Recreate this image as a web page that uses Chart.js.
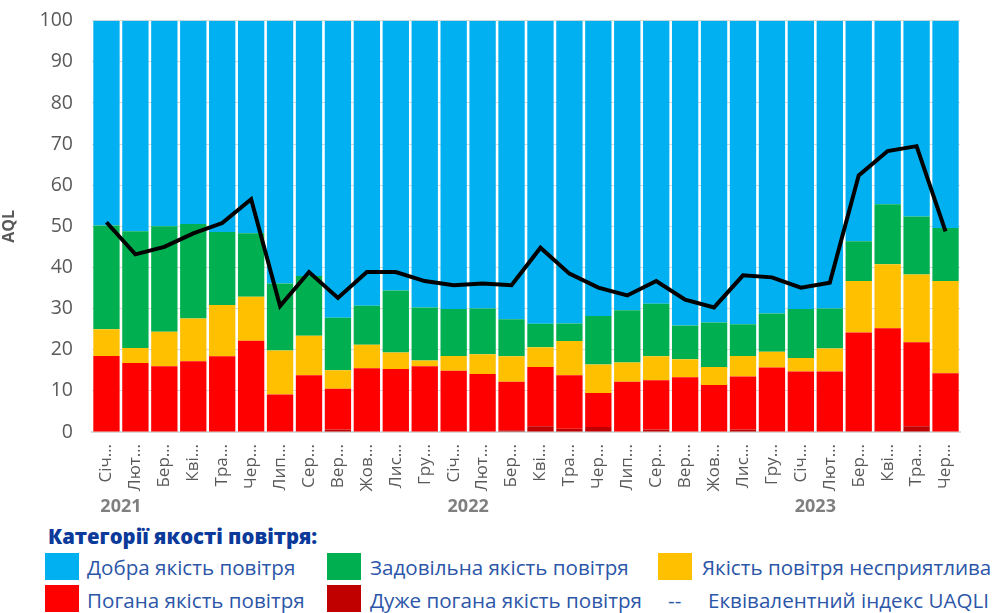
<!DOCTYPE html>
<html>
<head>
<meta charset="utf-8">
<script src="https://cdn.jsdelivr.net/npm/chart.js@4"></script>
<style>
    body { margin: 0; background: #fff; font-family: "Open Sans", sans-serif; }
    #page { position: relative; width: 996px; height: 613px; overflow: hidden; }
    #chartBox { position: absolute; left: 0; top: -10px; width: 996px; height: 530px; }
    .legend-title { position: absolute; left: 48px; top: 522px; font-size: 20.3px; font-weight: 800; color: #0b3a9a; }
    .item { position: absolute; font-size: 20.6px; color: #2c56a8; line-height: 26px; white-space: nowrap; }
    .swatch { position: absolute; width: 34px; height: 27px; }
</style>
</head>
<body>
<div id="page">
    <div id="chartBox"><canvas id="aqChart"></canvas></div>
    <div class="legend-title">Категорії якості повітря:</div>

    <div class="swatch" style="left:45px; top:553px; background:#00b0f0"></div>
    <div class="item" style="left:87px; top:554px">Добра якість повітря</div>
    <div class="swatch" style="left:327px; top:553px; background:#00b050"></div>
    <div class="item" style="left:370px; top:554px">Задовільна якість повітря</div>
    <div class="swatch" style="left:658px; top:553px; background:#ffc000"></div>
    <div class="item" style="left:702px; top:554px">Якість повітря несприятлива</div>

    <div class="swatch" style="left:45px; top:585px; background:#ff0000"></div>
    <div class="item" style="left:87px; top:587px">Погана якість повітря</div>
    <div class="swatch" style="left:327px; top:585px; background:#c00000"></div>
    <div class="item" style="left:370px; top:587px">Дуже погана якість повітря</div>
    <div class="item" style="left:668px; top:587px">--</div>
    <div class="item" style="left:708px; top:587px">Еквівалентний індекс UAQLI</div>
</div>

<script>
// Months Jan 2021 .. Jun 2023
const months = [
    'Січ…', 'Лют…', 'Бер…', 'Кві…', 'Тра…', 'Чер…', 'Лип…', 'Сер…', 'Вер…', 'Жов…', 'Лис…', 'Гру…',
    'Січ…', 'Лют…', 'Бер…', 'Кві…', 'Тра…', 'Чер…', 'Лип…', 'Сер…', 'Вер…', 'Жов…', 'Лис…', 'Гру…',
    'Січ…', 'Лют…', 'Бер…', 'Кві…', 'Тра…', 'Чер…'
];
const years = ['2021', '2022', '2023'];
const yearPos = [0.5, 12.5, 24.5];

// shares of days per category, %
const veryPoor = [0, 0, 0, 0, 0, 0, 0, 0, 0.6, 0.1, 0, 0, 0, 0, 0.4, 1.4, 0.8, 1.2, 0.1, 0.6, 0, 0, 0.6, 0, 0, 0, 0.2, 0.2, 1.4, 0];
const poor = [18.5, 16.8, 16.0, 17.2, 18.4, 22.2, 9.1, 13.8, 9.9, 15.4, 15.3, 16.0, 14.9, 14.1, 11.8, 14.4, 13.0, 8.3, 12.1, 12.0,
    13.3, 11.4, 12.9, 15.7, 14.7, 14.7, 24.0, 25.0, 20.4, 14.3];
const unfavorable = [6.5, 3.6, 8.4, 10.4, 12.5, 10.7, 10.7, 9.6, 4.5, 5.7, 4.0, 1.4, 3.6, 4.8, 6.2, 4.8, 8.3, 6.9, 4.7, 5.8,
    4.4, 4.4, 5.0, 3.8, 3.3, 5.6, 12.5, 15.6, 16.5, 22.4];
const satisfactory = [25.2, 28.4, 25.6, 23.0, 17.7, 15.4, 16.3, 14.5, 12.8, 9.5, 15.1, 12.9, 11.4, 11.1, 9.0, 5.7, 4.3, 11.8, 12.7, 12.8,
    8.2, 10.8, 7.7, 9.3, 11.9, 9.7, 9.7, 14.6, 14.1, 12.9];
const good = [49.8, 51.2, 50.0, 49.4, 51.4, 51.7, 63.9, 62.1, 72.2, 69.3, 65.6, 69.7, 70.1, 70.0, 72.6, 73.7, 73.6, 71.8, 70.4, 68.8,
    74.1, 73.4, 73.8, 71.2, 70.1, 70.0, 53.6, 44.6, 47.6, 50.4];
const uaqli = [51, 43.2, 45, 48.3, 50.8, 56.6, 30.6, 38.9, 32.6, 38.9, 38.9, 36.7, 35.7, 36.1, 35.7, 44.8, 38.5, 35.1, 33.2, 36.7,
    32.2, 30.3, 38.1, 37.6, 35.1, 36.3, 62.4, 68.3, 69.5, 48.8];

const fontFamily = '"Open Sans", sans-serif';

function barSet(label, data, color) {
    return {
        type: 'bar',
        label: label,
        data: data,
        backgroundColor: color,
        stack: 'days',
        order: 1,
        barPercentage: 0.91,
        categoryPercentage: 1
    };
}

// year captions under the month labels
const yearLabels = {
    id: 'yearLabels',
    afterDraw(chart) {
        const ctx = chart.ctx;
        const x = chart.scales.x;
        ctx.save();
        ctx.font = 'bold 18px ' + fontFamily;
        ctx.fillStyle = '#7f7f7f';
        ctx.textAlign = 'center';
        ctx.textBaseline = 'middle';
        years.forEach((y, i) => {
            ctx.fillText(y, x.getPixelForValue(yearPos[i]), 517);
        });
        ctx.restore();
    }
};

new Chart(document.getElementById('aqChart'), {
    data: {
        labels: months,
        datasets: [
            {
                type: 'line',
                label: 'Еквівалентний індекс UAQLI',
                data: uaqli,
                borderColor: '#000',
                borderWidth: 4,
                pointRadius: 0,
                tension: 0,
                stack: 'index',
                order: 0
            },
            barSet('Дуже погана якість повітря', veryPoor, '#c00000'),
            barSet('Погана якість повітря', poor, '#ff0000'),
            barSet('Якість повітря несприятлива', unfavorable, '#ffc000'),
            barSet('Задовільна якість повітря', satisfactory, '#00b050'),
            barSet('Добра якість повітря', good, '#00b0f0')
        ]
    },
    options: {
        responsive: true,
        maintainAspectRatio: false,
        animation: false,
        layout: { padding: { top: 9, right: 36, left: 0, bottom: 0 } },
        plugins: {
            legend: { display: false },
            tooltip: { enabled: false }
        },
        scales: {
            x: {
                stacked: true,
                grid: { display: false },
                border: { color: '#d9d9d9', width: 2 },
                ticks: {
                    autoSkip: false,
                    minRotation: 90,
                    maxRotation: 90,
                    color: '#595959',
                    padding: 4,
                    font: { family: fontFamily, size: 17 }
                },
                afterFit(scale) { scale.height = 88; }
            },
            y: {
                stacked: true,
                min: 0,
                max: 100,
                grid: { color: '#d9d9d9', lineWidth: 1, drawTicks: false },
                border: { display: false },
                ticks: {
                    stepSize: 10,
                    color: '#595959',
                    padding: 19,
                    font: { family: fontFamily, size: 19.5 }
                },
                title: {
                    display: true,
                    text: 'AQL',
                    color: '#595959',
                    padding: { top: 0, bottom: 2 },
                    font: { family: fontFamily, size: 16, weight: 'bold' }
                },
                afterFit(scale) { scale.width = 92; }
            }
        }
    },
    plugins: [yearLabels]
});
</script>
</body>
</html>
